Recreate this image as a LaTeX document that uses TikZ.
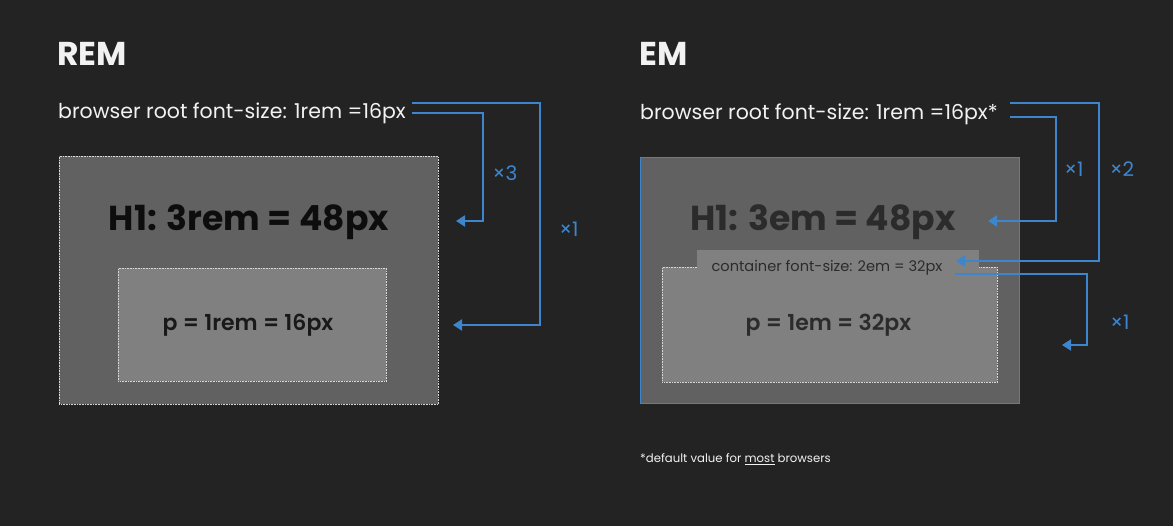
\documentclass[tikz,border=0pt]{standalone}
\usepackage{fontspec}
\setmainfont{Poppins}
\newfontfamily\semib{Poppins}[UprightFont={* SemiBold}]
\usetikzlibrary{arrows.meta}
\definecolor{bgc}{HTML}{232323}
\definecolor{outc}{HTML}{616161}
\definecolor{inc}{HTML}{808080}
\definecolor{bluec}{HTML}{3D86CE}
\definecolor{txtc}{HTML}{F2F2F2}
\definecolor{darkc}{HTML}{2B2B2B}
\tikzset{
  title/.style={anchor=base west, text=txtc, font=\bfseries\fontsize{33}{33}\selectfont, inner sep=0pt},
  roottxt/.style={anchor=base west, text=txtc, font=\fontsize{20.5}{20.5}\selectfont, inner sep=0pt},
  outerbox/.style={anchor=north west, fill=outc, inner sep=0pt},
  dotbox/.style={draw=white!85!black, line width=0.8pt, dash pattern=on 0.8pt off 0.8pt},
  innerbox/.style={anchor=north west, fill=inc, inner sep=0pt, dotbox},
  htxt/.style={anchor=base, font=\bfseries\fontsize{34.6}{34.6}\selectfont, inner sep=0pt},
  ptxt/.style={anchor=base, font=\semib\fontsize{22}{22}\selectfont, inner sep=0pt},
  conn/.style={draw=bluec, line width=2pt, -{Triangle[width=11pt,length=9pt]}},
  mult/.style={text=bluec, font=\fontsize{20}{20}\selectfont, inner sep=0pt},
}
\begin{document}
\begin{tikzpicture}[x=1pt,y=-1pt]
\fill[bgc] (0,0) rectangle (1173,526);
\useasboundingbox (0,0) rectangle (1173,526);

% ---------- REM ----------
\node[title] (remt) at (57,66) {REM};
\node[roottxt] (rootR) at (58,119) {browser root font-size: 1rem =16px};
\node[outerbox, dotbox, minimum width=379pt, minimum height=248pt] (remouter) at (59,156) {};
\node[innerbox, minimum width=268pt, minimum height=113pt] (reminner) at (118,268) {};
\node[htxt, text=black!95] (h1R) at (249,231) {H1: 3rem = 48px};
\node[ptxt, text=black!90] (pR) at (248,331) {p = 1rem = 16px};

\coordinate (rA) at (412,103);
\coordinate (rB) at (412,113);
\coordinate (rAt) at (453,325);
\coordinate (rBt) at (456,221);
\draw[conn] (rA) -- (540,103) |- (rAt);
\draw[conn] (rB) -- (483,113) |- (rBt);
\node[mult] (m3) at (505,173) {×3};
\node[mult] (m1R) at (569,229) {×1};

% ---------- EM ----------
\node[title] (emt) at (639,66) {EM};
\node[roottxt] (rootE) at (640,120) {browser root font-size: 1rem =16px*};
\node[outerbox, draw=bluec, line width=0.8pt, minimum width=379pt, minimum height=246pt] (emouter) at (640,157) {};
\node[innerbox, minimum width=335pt, minimum height=115pt] (eminner) at (662,267) {};
\fill[inc] (697,250) rectangle (979,268.5);
\node[htxt, text=darkc] (h1E) at (823,231) {H1: 3em = 48px};
\node[anchor=base, text=darkc, font=\fontsize{14.6}{14.6}\selectfont, inner sep=0pt] (cont) at (827,272) {container font-size: 2em = 32px};
\node[ptxt, text=darkc] (pE) at (828.5,331) {p = 1em = 32px};

\coordinate (eA) at (1010,103);
\coordinate (eB) at (1010,117);
\coordinate (eC) at (955,274);
\coordinate (eAt) at (956,261);
\coordinate (eBt) at (988,221);
\coordinate (eCt) at (1062,345);
\draw[conn] (eA) -- (1099,103) |- (eAt);
\draw[conn] (eB) -- (1056,117) |- (eBt);
\draw[conn] (eC) -- (1087,274) |- (eCt);
\node[mult] (m1a) at (1074,169) {×1};
\node[mult] (m2) at (1122,169) {×2};
\node[mult] (m1b) at (1120,322) {×1};

\node[anchor=base west, text=txtc, font=\fontsize{11.7}{11.7}\selectfont, inner sep=0pt] (foot) at (640,463) {*default value for \underline{most} browsers};
\end{tikzpicture}
\end{document}
